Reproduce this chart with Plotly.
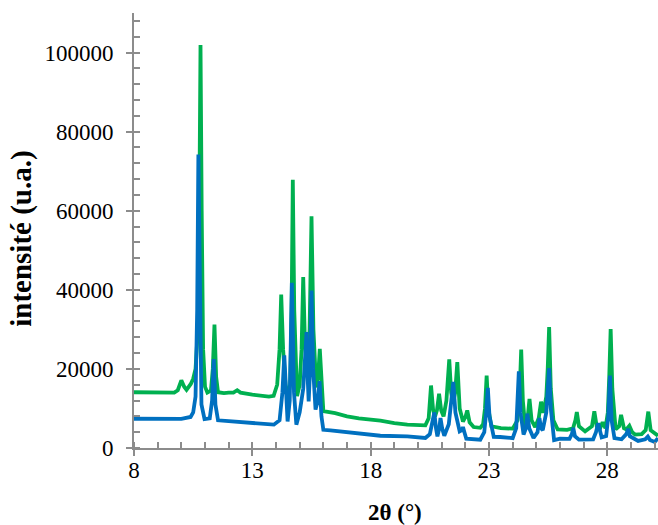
import plotly.graph_objects as go

# Green pattern (2theta, intensity)
green_x = [8.0, 9.0, 9.7, 9.85, 10.0, 10.12, 10.22, 10.4, 10.5, 10.6, 10.7, 10.76, 10.81, 10.86, 10.92, 11.0, 11.1,
           11.25, 11.33, 11.4, 11.47, 11.55, 11.8, 12.0, 12.2, 12.36, 12.5, 13.0, 13.35, 13.7, 13.9,
           14.05, 14.15, 14.22, 14.3, 14.4, 14.5, 14.6, 14.66, 14.71, 14.77, 14.84, 14.89, 15.0, 15.08, 15.15,
           15.22, 15.32, 15.42, 15.5, 15.58, 15.7, 15.78, 15.85, 15.93, 16.0, 16.5, 17.0, 17.5, 18.0, 18.41,
           19.0, 19.55, 20.31, 20.45, 20.55, 20.64, 20.72, 20.8, 20.89, 20.98, 21.08, 21.2, 21.32, 21.4, 21.48,
           21.57, 21.66, 21.76, 21.9, 22.0, 22.08, 22.18, 22.35, 22.63, 22.75, 22.83, 22.9, 22.97, 23.1, 23.5,
           24.0, 24.2, 24.3, 24.36, 24.43, 24.53, 24.64, 24.71, 24.8, 24.95, 25.1, 25.2, 25.3, 25.42, 25.48,
           25.54, 25.61, 25.72, 25.9, 26.3, 26.55, 26.65, 26.71, 26.8, 27.06, 27.35, 27.45, 27.55, 27.68, 27.8,
           27.92, 28.02, 28.08, 28.14, 28.21, 28.35, 28.5, 28.58, 28.7, 28.8, 28.93, 29.05, 29.17, 29.45, 29.62,
           29.73, 29.83, 30.14]
green_y = [14100, 14000, 14000, 14600, 17100, 15500, 14700, 16200, 17500, 20000, 30000, 60000, 101900, 60000, 25000,
           15500, 14000, 14500, 20000, 31200, 18000, 14100, 13900, 14000, 14000, 14600, 14000, 13500, 13250, 13000,
           13200, 16000, 25000, 38800, 25000, 16000, 13100, 16000, 35000, 67800, 35000, 16000, 13100, 16000, 25000,
           43200, 27000, 18000, 30000, 58600, 30000, 15300, 18000, 25100, 14000, 9300, 8800, 8000, 7500, 7200, 6900,
           6300, 5900, 5730, 7500, 15800, 9500, 8000, 9500, 13700, 9500, 8000, 12000, 22400, 14000, 11400, 14000,
           21700, 10000, 6700, 7800, 9500, 6500, 5300, 5100, 6000, 10000, 18300, 10000, 5500, 5000, 4900, 7000,
           15000, 24900, 12000, 5300, 8000, 12400, 7000, 5300, 7500, 11700, 8900, 13000, 20000, 30600, 15000, 7000,
           4700, 4600, 5000, 7000, 9100, 5500, 4200, 5500, 9300, 5500, 4800, 6500, 5000, 9000, 18000, 30100, 15000,
           4700, 5500, 8400, 5000, 4700, 5600, 4000, 3400, 3500, 4500, 9200, 4500, 3100]

# Blue pattern (2theta, intensity)
blue_x = [8.0, 9.0, 10.0, 10.39, 10.5, 10.6, 10.67, 10.72, 10.78, 10.85, 10.98, 11.2, 11.3, 11.37, 11.44, 11.55,
          12.0, 13.0, 13.35, 13.91, 14.15, 14.27, 14.35, 14.42, 14.49, 14.58, 14.67, 14.76, 14.86, 15.0, 15.15,
          15.24, 15.29, 15.35, 15.38, 15.44, 15.5, 15.57, 15.67, 15.77, 15.84, 15.92, 16.0, 16.3, 17.0, 18.41,
          19.55, 20.31, 20.5, 20.6, 20.69, 20.76, 20.82, 20.9, 20.95, 21.02, 21.11, 21.3, 21.4, 21.49, 21.58,
          21.76, 21.85, 21.9, 21.96, 22.04, 22.63, 22.8, 22.88, 22.95, 23.02, 23.2, 23.47, 24.0, 24.15, 24.21,
          24.26, 24.33, 24.46, 24.56, 24.62, 24.7, 24.88, 25.05, 25.13, 25.2, 25.27, 25.42, 25.49, 25.54, 25.61,
          25.75, 26.0, 26.4, 26.5, 26.56, 26.63, 26.8, 27.4, 27.52, 27.61, 27.7, 27.76, 27.95, 28.04, 28.11,
          28.18, 28.3, 28.6, 28.8, 28.88, 28.95, 29.3, 29.6, 29.71, 29.8, 30.0, 30.14]
blue_y = [7400, 7350, 7340, 7850, 9000, 13000, 35000, 74200, 35000, 11000, 7300, 7500, 12000, 22500, 11000, 7000,
          6800, 6400, 6300, 5900, 7000, 14000, 23400, 12000, 6700, 12000, 41800, 14000, 5900, 9000, 15000, 24000,
          29300, 16000, 11800, 20000, 39800, 20000, 9700, 12000, 16900, 8000, 4600, 4460, 4000, 3100, 2940, 2530,
          3500, 6000, 9000, 5000, 2940, 5000, 7600, 5000, 3100, 6000, 11000, 16700, 9000, 4200, 4500, 5300, 4000,
          2350, 2100, 4000, 9000, 15200, 8000, 2800, 2780, 2500, 5000, 11000, 19400, 9000, 3400, 5000, 8700, 5000,
          2530, 4000, 7600, 5000, 4500, 9000, 15000, 20200, 10000, 2000, 2350, 2300, 3500, 5100, 3000, 2100, 2200,
          4000, 6300, 3500, 2680, 3000, 8000, 18300, 7000, 2500, 2200, 3500, 4800, 3000, 1800, 2200, 2900, 2000,
          1500, 2500]

x_ticks = [8, 13, 18, 23, 28]
y_ticks = [0, 20000, 40000, 60000, 80000, 100000]

FONT = "Liberation Serif, Times New Roman, serif"
AXIS_COLOR = "#8c8c8c"

fig = go.Figure()
fig.add_trace(go.Scatter(x=green_x, y=green_y, mode="lines",
                         line=dict(color="#00B050", width=3.8), showlegend=False))
fig.add_trace(go.Scatter(x=blue_x, y=blue_y, mode="lines",
                         line=dict(color="#0070C0", width=3.8), showlegend=False))

fig.update_layout(
    width=658, height=525,
    margin=dict(l=134, r=0, t=13, b=77),
    paper_bgcolor="white", plot_bgcolor="white",
    font=dict(family=FONT, size=23, color="black"),
    xaxis=dict(
        range=[8, 30.14], tickvals=x_ticks, ticktext=[str(v) for v in x_ticks],
        showgrid=False, zeroline=False, showline=True, linecolor=AXIS_COLOR, linewidth=2,
        ticks="outside", ticklen=6, tickcolor=AXIS_COLOR, tickwidth=2, ticklabelstandoff=-6,
        minor=dict(dtick=1, tick0=8, ticks="inside", ticklen=6, tickcolor=AXIS_COLOR, tickwidth=2),
        automargin=False,
    ),
    yaxis=dict(
        range=[0, 110000], tickvals=y_ticks, ticktext=[str(v) for v in y_ticks],
        showgrid=False, zeroline=False, showline=True, linecolor=AXIS_COLOR, linewidth=2,
        ticks="outside", ticklen=6, tickcolor=AXIS_COLOR, tickwidth=2, ticklabelstandoff=8,
        minor=dict(dtick=4000, tick0=0, ticks="inside", ticklen=6, tickcolor=AXIS_COLOR, tickwidth=2),
        automargin=False,
    ),
    annotations=[
        dict(text="<b>2θ (°)</b>", xref="paper", yref="paper", x=0.498, y=-0.149,
             xanchor="center", yanchor="middle", showarrow=False, font=dict(family=FONT, size=23)),
        dict(text="<b>intensité (u.a.)</b>", xref="paper", yref="paper", x=-0.2137, y=0.481,
             xanchor="center", yanchor="middle", textangle=-90, showarrow=False,
             font=dict(family=FONT, size=29)),
    ],
)

fig.write_html("out.html", config={"displayModeBar": False},
               post_script="document.body.style.margin='0';document.body.style.overflow='hidden';")
